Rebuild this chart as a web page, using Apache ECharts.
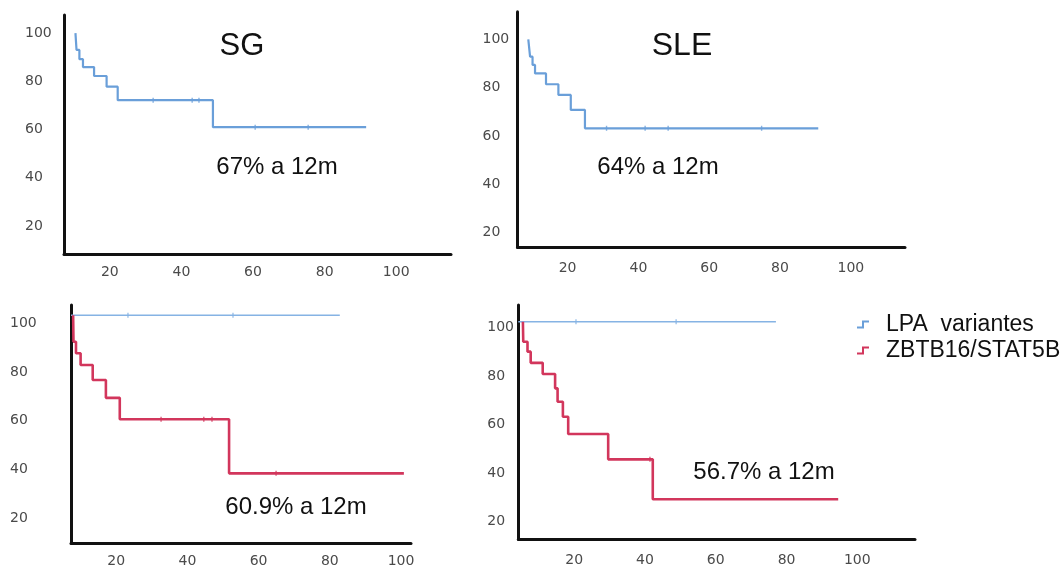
<!DOCTYPE html>
<html>
<head>
<meta charset="utf-8">
<script src="https://cdn.jsdelivr.net/npm/echarts@6/dist/echarts.min.js"></script>
<style>
  html, body { margin: 0; padding: 0; background: #fff; }
  #chart { width: 1064px; height: 570px; }
</style>
</head>
<body>
<div id="chart"></div>
<script>
// Tick labels shared by every panel
const tickValues = [20, 40, 60, 80, 100];

// SG panel (top left): Kaplan-Meier curve, LPA variantes
const sgTime = [10.4, 10.7, 11.5, 12.5, 15.6, 19.1, 22.2, 48.8, 91.6];
const sgSurv = [100, 93, 89.2, 85.9, 82.2, 77.8, 72.2, 61, 61];
const sgCensorTime = [32.1, 43, 44.9, 60.6, 75.4];
const sgCensorSurv = [72.2, 72.2, 72.2, 61, 61];

// SLE panel (top right): Kaplan-Meier curve, LPA variantes
const sleTime = [8.9, 9.4, 10.1, 10.8, 13.9, 17.4, 20.9, 24.9, 90.8];
const sleSurv = [100, 92.8, 89.4, 85.9, 81.4, 77, 70.8, 63.2, 63.2];
const sleCensorTime = [31, 41.9, 48.4, 74.8];
const sleCensorSurv = [63.2, 63.2, 63.2, 63.2];

// SG panel by group (bottom left)
const sgLpaTime = [7.3, 82.8];
const sgLpaSurv = [103.3, 103.3];
const sgLpaCensorTime = [23.3, 52.8];
const sgLpaCensorSurv = [103.3, 103.3];
const sgZbtbTime = [7.9, 8.0, 8.7, 10.0, 13.4, 17.1, 21.0, 51.7, 100.8];
const sgZbtbSurv = [103.3, 92.4, 87.7, 82.9, 76.7, 69.4, 60.6, 38.4, 38.4];
const sgZbtbCensorTime = [32.6, 44.6, 46.9, 64.9];
const sgZbtbCensorSurv = [60.6, 60.6, 60.6, 38.4];

// SLE panel by group (bottom right)
const sleLpaTime = [4.2, 77];
const sleLpaSurv = [102.3, 102.3];
const sleLpaCensorTime = [20.5, 48.8];
const sleLpaCensorSurv = [102.3, 102.3];
const sleZbtbTime = [5.5, 5.6, 6.8, 7.7, 11.1, 14.6, 15.3, 16.8, 18.3, 29.6, 42.2, 94.6];
const sleZbtbSurv = [102.3, 94.1, 90, 85.4, 80.8, 74.9, 69.4, 63.2, 56.1, 45.7, 29.3, 29.3];
const sleZbtbCensorTime = [41.4];
const sleZbtbCensorSurv = [45.7];

// Panel captions
const panelTitles = ['SG', 'SLE'];
const panelNotes = ['67% a 12m', '64% a 12m', '60.9% a 12m', '56.7% a 12m'];
const groupNames = ['LPA  variantes', 'ZBTB16/STAT5B'];

const BLUE = '#6a9fd9';
const BLUE_LIGHT = '#86b3e4';
const RED = '#d2365c';
const AXIS = '#111111';
const LABEL = '#4a4a4a';

const pairs = (xs, ys) => xs.map((x, i) => [x, ys[i]]);

// Panel frames: pixel boxes plus the value window each axis shows
const panels = [
  { grid: { left: 64, top: 15, width: 387, height: 239 },
    x: [7.2, 115.3], y: [8.4, 107.5], yMargin: 39, xMargin: 11 },
  { grid: { left: 517.5, top: 11.7, width: 387.5, height: 235.6 },
    x: [5.85, 115.3], y: [14, 111.4], yMargin: 35, xMargin: 14 },
  { grid: { left: 71, top: 305, width: 340, height: 238.3 },
    x: [7.3, 102.8], y: [9.7, 107.5], yMargin: 61, xMargin: 11.5 },
  { grid: { left: 518.3, top: 305, width: 396.7, height: 234.3 },
    x: [4.2, 116.3], y: [12.8, 109.2], yMargin: 31, xMargin: 14 }
];

const labelFont = { fontFamily: 'DejaVu Sans', fontSize: 14, color: LABEL };

const grids = panels.map(p => Object.assign({ containLabel: false }, p.grid));
const xAxes = panels.map((p, i) => ({
  type: 'value', gridIndex: i, min: p.x[0], max: p.x[1],
  axisLine: { show: true, lineStyle: { color: AXIS, width: 3 } },
  axisTick: { show: false },
  splitLine: { show: false },
  axisLabel: Object.assign({ customValues: tickValues, margin: p.xMargin }, labelFont)
}));
const yAxes = panels.map((p, i) => ({
  type: 'value', gridIndex: i, min: p.y[0], max: p.y[1],
  axisLine: { show: true, lineStyle: { color: AXIS, width: 3 } },
  axisTick: { show: false },
  splitLine: { show: false },
  axisLabel: Object.assign({ customValues: tickValues, margin: p.yMargin, align: 'left' }, labelFont)
}));

function kmLine(name, idx, xs, ys, color, width) {
  return {
    type: 'line', name, xAxisIndex: idx, yAxisIndex: idx,
    data: pairs(xs, ys), step: 'end', showSymbol: false, silent: true,
    lineStyle: { color, width }, itemStyle: { color }, z: 3
  };
}
function censorMarks(name, idx, xs, ys, color) {
  return {
    type: 'scatter', name, xAxisIndex: idx, yAxisIndex: idx,
    data: pairs(xs, ys), symbol: 'rect', symbolSize: [1.4, 5], silent: true,
    itemStyle: { color }, z: 4
  };
}

const series = [
  kmLine(groupNames[0], 0, sgTime, sgSurv, BLUE, 2.2),
  censorMarks(groupNames[0], 0, sgCensorTime, sgCensorSurv, BLUE),
  kmLine(groupNames[0], 1, sleTime, sleSurv, BLUE, 2.2),
  censorMarks(groupNames[0], 1, sleCensorTime, sleCensorSurv, BLUE),
  kmLine(groupNames[0], 2, sgLpaTime, sgLpaSurv, BLUE_LIGHT, 1.4),
  censorMarks(groupNames[0], 2, sgLpaCensorTime, sgLpaCensorSurv, BLUE_LIGHT),
  kmLine(groupNames[1], 2, sgZbtbTime, sgZbtbSurv, RED, 2.6),
  censorMarks(groupNames[1], 2, sgZbtbCensorTime, sgZbtbCensorSurv, RED),
  kmLine(groupNames[0], 3, sleLpaTime, sleLpaSurv, BLUE_LIGHT, 1.4),
  censorMarks(groupNames[0], 3, sleLpaCensorTime, sleLpaCensorSurv, BLUE_LIGHT),
  kmLine(groupNames[1], 3, sleZbtbTime, sleZbtbSurv, RED, 2.6),
  censorMarks(groupNames[1], 3, sleZbtbCensorTime, sleZbtbCensorSurv, RED)
];

// Small step glyph used as the legend key
const stepIcon = 'path://M0,6 H5 V0 H12 V2 H7 V8 H0 Z';

const textFont = 'Liberation Sans';
function caption(text, x, y, size) {
  return {
    type: 'text', x, y, silent: true,
    style: { text, fontFamily: textFont, fontSize: size, fill: '#111',
             align: 'center', verticalAlign: 'middle' }
  };
}

const option = {
  backgroundColor: '#ffffff',
  animation: false,
  grid: grids,
  xAxis: xAxes,
  yAxis: yAxes,
  series,
  legend: {
    orient: 'vertical', left: 852, top: 308, itemGap: 3,
    itemWidth: 12, itemHeight: 8, selectedMode: false,
    textStyle: { fontFamily: textFont, fontSize: 23, color: '#111', padding: [0, 0, 0, 12] },
    data: [
      { name: groupNames[0], icon: stepIcon, itemStyle: { color: BLUE } },
      { name: groupNames[1], icon: stepIcon, itemStyle: { color: RED } }
    ]
  },
  graphic: [
    caption(panelTitles[0], 242, 46, 31),
    caption(panelTitles[1], 682, 46, 32),
    caption(panelNotes[0], 277, 167, 24),
    caption(panelNotes[1], 658, 167, 24),
    caption(panelNotes[2], 296, 507, 24),
    caption(panelNotes[3], 764, 472, 24)
  ]
};

const chart = echarts.init(document.getElementById('chart'), null, { renderer: 'canvas' });
chart.setOption(option);
</script>
</body>
</html>
